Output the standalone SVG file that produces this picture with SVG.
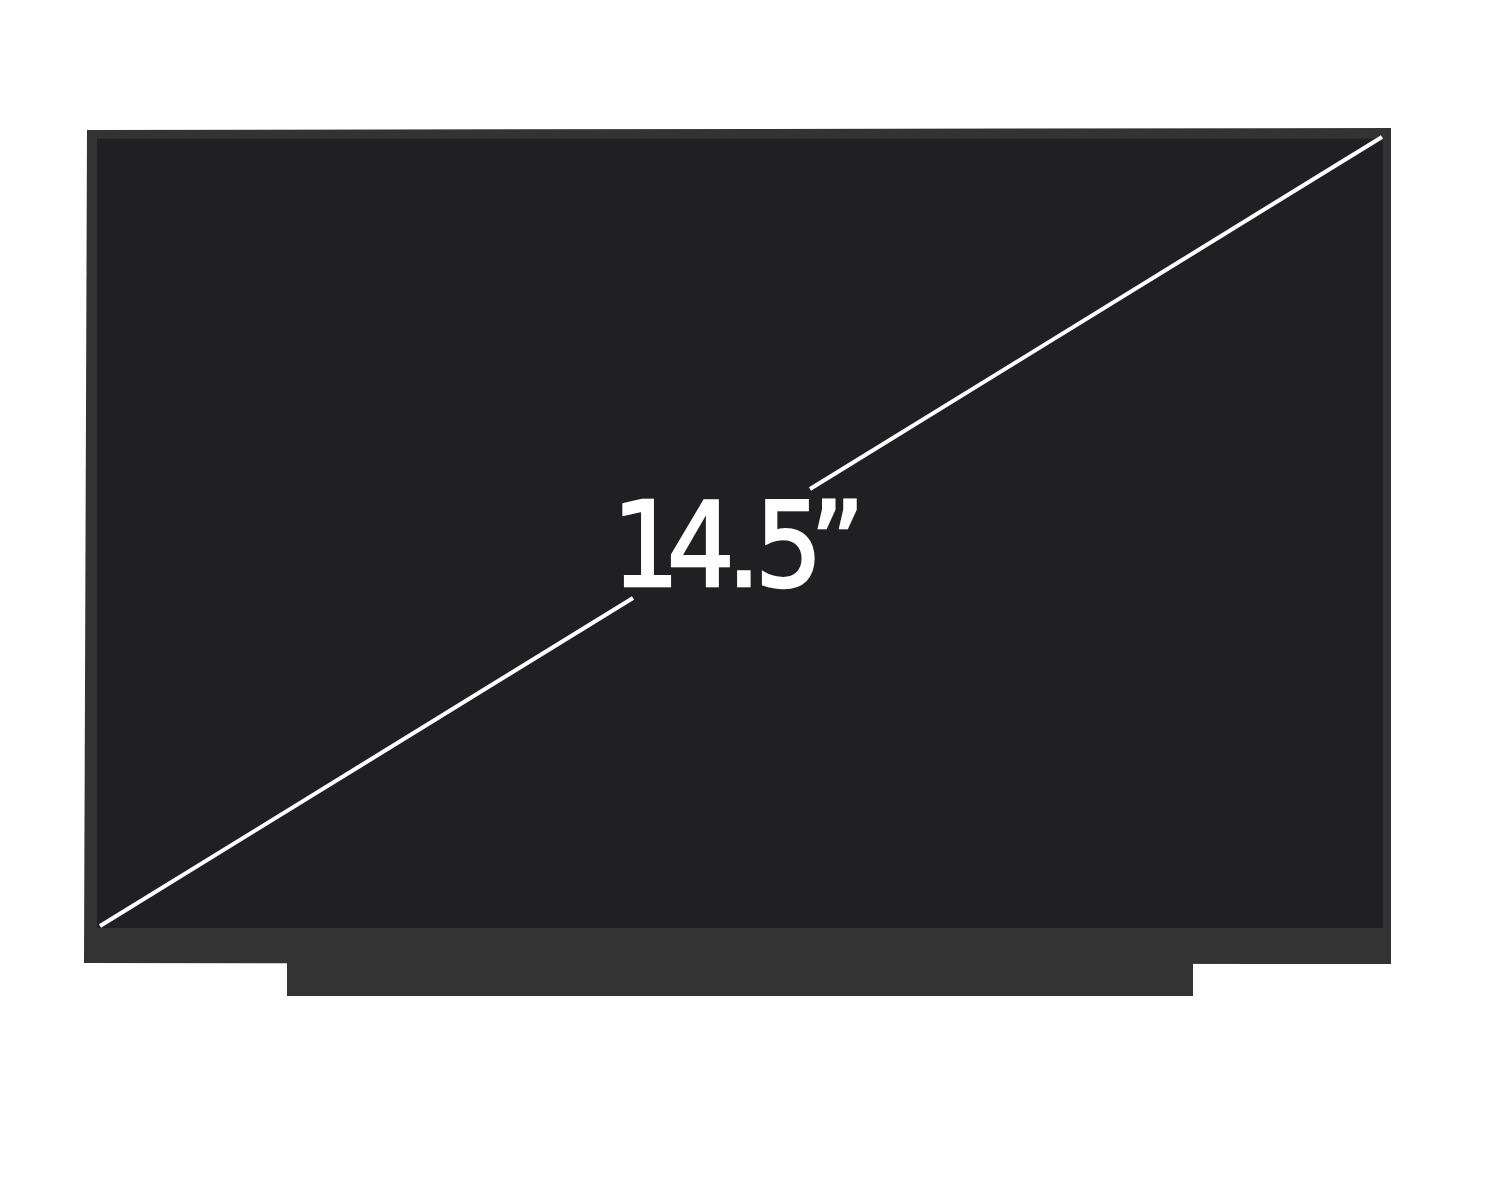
<svg xmlns="http://www.w3.org/2000/svg" width="1490" height="1200" viewBox="0 0 1490 1200">
<style>
.frame{fill:#333333}
.screen{fill:#202022}
.diag{stroke:#ffffff;stroke-width:4;stroke-linecap:butt;fill:none}
.size{font-family:"DejaVu Sans Condensed","DejaVu Sans",sans-serif;font-size:118px;fill:#ffffff;stroke:#ffffff;stroke-width:2.5;stroke-linejoin:miter}
</style>
<rect width="1490" height="1200" fill="#ffffff"/>
<g id="panel">
<rect class="frame" x="287" y="950" width="906" height="46"/>
<polygon class="frame" points="87,130 1391,128 1391,964 84,963"/>
<rect class="screen" x="97" y="138.5" width="1286" height="789.5"/>
</g>
<g id="connectors">
<line class="diag" x1="100" y1="926" x2="633" y2="598"/>
<line class="diag" x1="810" y1="489" x2="1382" y2="137"/>
</g>
<g id="label">
<text class="size" x="612 667 727 755 810" y="586">14.5”</text>
</g>
</svg>
